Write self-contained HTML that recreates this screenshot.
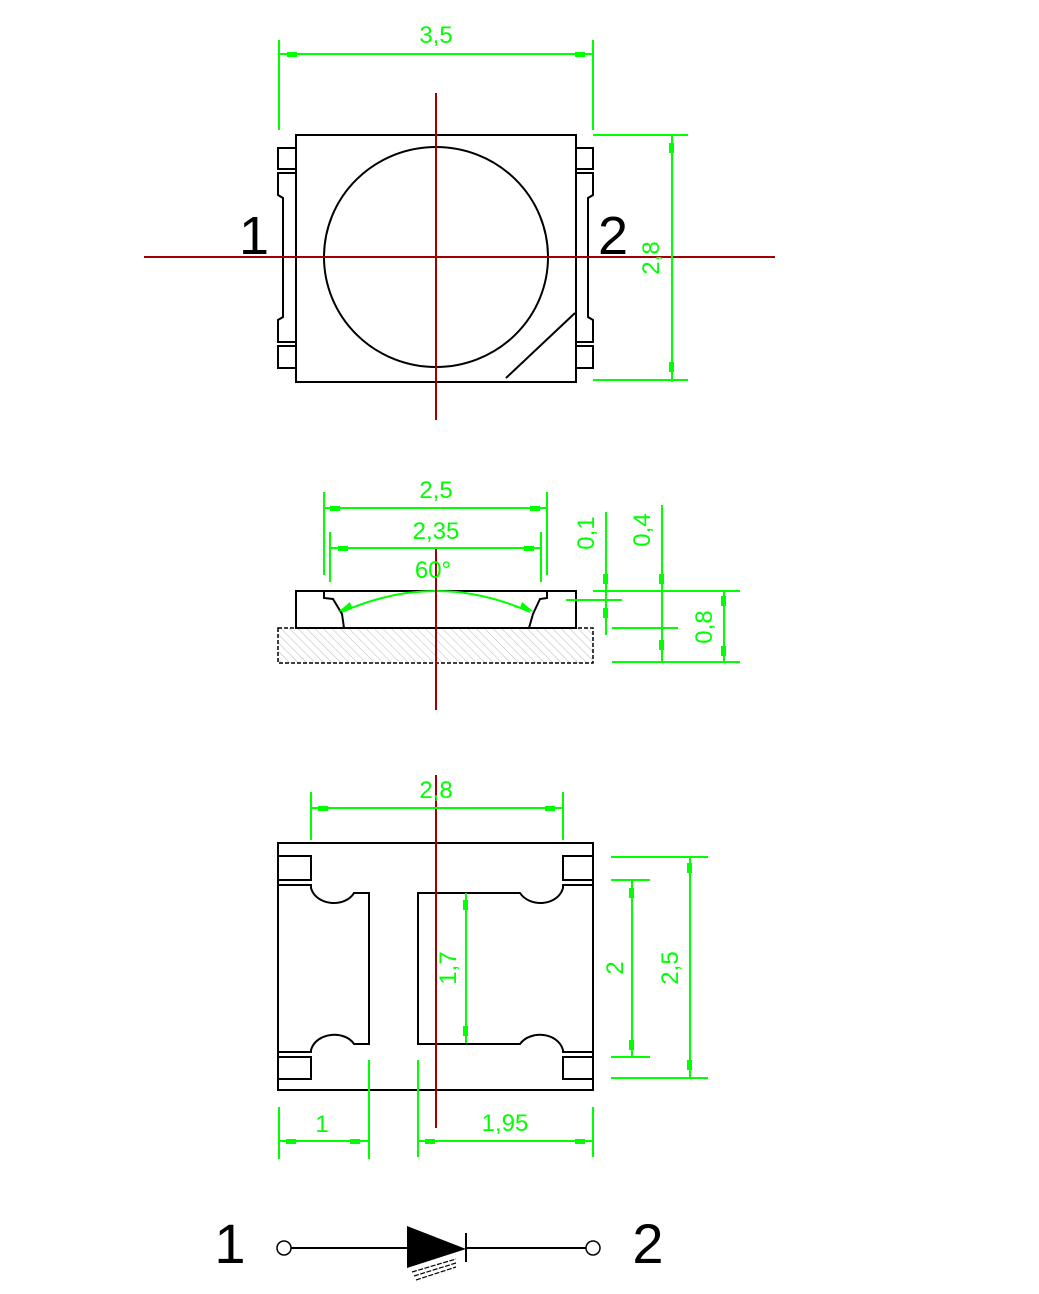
<!DOCTYPE html>
<html><head><meta charset="utf-8"><style>
html,body{margin:0;padding:0;background:#fff}
svg{display:block}
.g{stroke:#00ff00;stroke-width:2;fill:none}
.ga{fill:#00ff00;stroke:none}
.k{stroke:#000;stroke-width:2;fill:none}
.r{stroke:#a00000;stroke-width:2;fill:none}
.t{font-family:"Liberation Sans",sans-serif;fill:#00ff00;font-size:24px;text-anchor:middle}
.b{font-family:"Liberation Sans",sans-serif;fill:#000;text-anchor:middle}
</style></head><body>
<svg width="1039" height="1294" viewBox="0 0 1039 1294" xmlns="http://www.w3.org/2000/svg">
<defs>
<pattern id="h" width="6" height="6" patternUnits="userSpaceOnUse" patternTransform="rotate(-45)">
<line x1="0" y1="0" x2="0" y2="6" stroke="#bbb" stroke-width="1"/>
</pattern>
</defs>

<!-- TOP VIEW -->
<rect class="k" x="296" y="135" width="280" height="247"/>
<ellipse class="k" cx="436" cy="257" rx="112" ry="110"/>
<!-- left pads -->
<rect class="k" x="278" y="148" width="18" height="21"/>
<rect class="k" x="278" y="346" width="18" height="22"/>
<path class="k" d="M296 173 H278 V195 L283 198 V317 L278 320 V342 H296"/>
<!-- right pads -->
<rect class="k" x="576" y="148" width="17" height="21"/>
<rect class="k" x="576" y="346" width="17" height="22"/>
<path class="k" d="M576 173 H593 V195 L588 198 V317 L593 320 V342 H576"/>
<line class="k" x1="506" y1="378" x2="575" y2="313" stroke-width="1.5"/>
<line class="r" x1="436" y1="93" x2="436" y2="420"/>
<line class="r" x1="144" y1="257" x2="775" y2="257"/>
<text class="b" x="254" y="254" font-size="54">1</text>
<text class="b" x="613" y="254" font-size="54">2</text>
<!-- dim 3,5 -->
<line class="g" x1="279" y1="40" x2="279" y2="130"/>
<line class="g" x1="593" y1="40" x2="593" y2="130"/>
<line class="g" x1="279" y1="54" x2="593" y2="54"/>
<rect class="ga" x="287" y="52" width="10" height="5"/>
<rect class="ga" x="575" y="52" width="10" height="5"/>
<text class="t" x="436" y="43">3,5</text>
<!-- dim 2,8 -->
<line class="g" x1="593" y1="135" x2="688" y2="135"/>
<line class="g" x1="593" y1="380" x2="688" y2="380"/>
<line class="g" x1="672" y1="135" x2="672" y2="382"/>
<rect class="ga" x="669" y="143" width="5" height="10"/>
<rect class="ga" x="669" y="362" width="5" height="10"/>
<text class="t" transform="translate(659,258) rotate(-90)">2,8</text>

<!-- SIDE VIEW -->
<rect x="278" y="628" width="315" height="35" fill="url(#h)" stroke="#000" stroke-width="1.5" stroke-dasharray="4,2"/>
<rect class="k" x="296" y="591" width="280" height="37"/>
<path class="k" d="M324 591 V598 L333 599 L342 614 L344 628" stroke-width="1.5"/>
<path class="k" d="M547 591 V598 L540 599 L533 614 L529 628" stroke-width="1.5"/>
<path class="g" d="M342 612 Q436 570 530 612"/>
<path class="ga" d="M338 612 L350 602 L352 608 Z"/>
<path class="ga" d="M534 612 L522 602 L520 608 Z"/>
<line class="r" x1="436" y1="548" x2="436" y2="710"/>
<!-- 2,5 -->
<line class="g" x1="324" y1="492" x2="324" y2="575"/>
<line class="g" x1="547" y1="492" x2="547" y2="575"/>
<line class="g" x1="324" y1="508" x2="547" y2="508"/>
<rect class="ga" x="330" y="506" width="10" height="5"/>
<rect class="ga" x="530" y="506" width="10" height="5"/>
<text class="t" x="436" y="498">2,5</text>
<!-- 2,35 -->
<line class="g" x1="330" y1="532" x2="330" y2="582"/>
<line class="g" x1="541" y1="532" x2="541" y2="582"/>
<line class="g" x1="330" y1="548" x2="541" y2="548"/>
<rect class="ga" x="338" y="546" width="10" height="5"/>
<rect class="ga" x="524" y="546" width="10" height="5"/>
<text class="t" x="436" y="539">2,35</text>
<text class="t" x="433" y="578">60°</text>
<!-- right side dims -->
<line class="g" x1="593" y1="591" x2="740" y2="591"/>
<line class="g" x1="566" y1="600" x2="622" y2="600"/>
<line class="g" x1="612" y1="628" x2="678" y2="628"/>
<line class="g" x1="612" y1="662" x2="740" y2="662"/>
<line class="g" x1="606" y1="512" x2="606" y2="635"/>
<line class="g" x1="662" y1="505" x2="662" y2="662"/>
<line class="g" x1="724" y1="591" x2="724" y2="662"/>
<rect class="ga" x="603" y="574" width="5" height="10"/>
<rect class="ga" x="603" y="608" width="5" height="10"/>
<rect class="ga" x="659" y="574" width="5" height="10"/>
<rect class="ga" x="659" y="640" width="5" height="10"/>
<rect class="ga" x="721" y="596" width="5" height="10"/>
<rect class="ga" x="721" y="646" width="5" height="10"/>
<text class="t" transform="translate(594,533) rotate(-90)">0,1</text>
<text class="t" transform="translate(650,530) rotate(-90)">0,4</text>
<text class="t" transform="translate(712,627) rotate(-90)">0,8</text>

<!-- BOTTOM VIEW -->
<rect class="k" x="278" y="843" width="315" height="247"/>
<rect class="k" x="278" y="856" width="33" height="24"/>
<rect class="k" x="278" y="1057" width="33" height="22"/>
<rect class="k" x="563" y="856" width="30" height="24"/>
<rect class="k" x="563" y="1057" width="30" height="22"/>
<path class="k" d="M278 885 H311 V888 C316 906 345 908 354 893 H369 V1044 H354 C345 1030 316 1032 311 1050 V1052 H278"/>
<path class="k" d="M593 885 H563 V888 C558 906 530 908 520 893 H418 V1044 H520 C530 1030 558 1032 563 1050 V1052 H593"/>
<line class="r" x1="436" y1="775" x2="436" y2="1128"/>
<!-- 2,8 -->
<line class="g" x1="311" y1="792" x2="311" y2="840"/>
<line class="g" x1="563" y1="792" x2="563" y2="840"/>
<line class="g" x1="311" y1="808" x2="563" y2="808"/>
<rect class="ga" x="318" y="806" width="10" height="5"/>
<rect class="ga" x="545" y="806" width="10" height="5"/>
<text class="t" x="436" y="798">2,8</text>
<!-- 1,7 -->
<line class="g" x1="466" y1="893" x2="466" y2="1043"/>
<rect class="ga" x="463" y="900" width="5" height="10"/>
<rect class="ga" x="463" y="1026" width="5" height="10"/>
<text class="t" transform="translate(456,968) rotate(-90)" font-size="22">1,7</text>
<!-- right dims -->
<line class="g" x1="611" y1="857" x2="708" y2="857"/>
<line class="g" x1="611" y1="1078" x2="708" y2="1078"/>
<line class="g" x1="611" y1="880" x2="650" y2="880"/>
<line class="g" x1="611" y1="1057" x2="650" y2="1057"/>
<line class="g" x1="632" y1="880" x2="632" y2="1057"/>
<line class="g" x1="690" y1="857" x2="690" y2="1078"/>
<rect class="ga" x="629" y="888" width="5" height="10"/>
<rect class="ga" x="629" y="1040" width="5" height="10"/>
<rect class="ga" x="687" y="863" width="5" height="10"/>
<rect class="ga" x="687" y="1060" width="5" height="10"/>
<text class="t" transform="translate(623,968) rotate(-90)">2</text>
<text class="t" transform="translate(678,968) rotate(-90)">2,5</text>
<!-- bottom dims -->
<line class="g" x1="279" y1="1107" x2="279" y2="1159"/>
<line class="g" x1="369" y1="1060" x2="369" y2="1159"/>
<line class="g" x1="418" y1="1060" x2="418" y2="1157"/>
<line class="g" x1="593" y1="1107" x2="593" y2="1157"/>
<line class="g" x1="279" y1="1141" x2="369" y2="1141"/>
<line class="g" x1="418" y1="1141" x2="593" y2="1141"/>
<rect class="ga" x="286" y="1139" width="10" height="5"/>
<rect class="ga" x="350" y="1139" width="10" height="5"/>
<rect class="ga" x="425" y="1139" width="10" height="5"/>
<rect class="ga" x="575" y="1139" width="10" height="5"/>
<text class="t" x="322" y="1132">1</text>
<text class="t" x="505" y="1131">1,95</text>

<!-- SYMBOL -->
<text class="b" x="230" y="1263" font-size="56">1</text>
<text class="b" x="648" y="1263" font-size="56">2</text>
<circle cx="284" cy="1248" r="7" fill="#fff" stroke="#000" stroke-width="1.5"/>
<circle cx="593" cy="1248" r="7" fill="#fff" stroke="#000" stroke-width="1.5"/>
<line class="k" x1="291" y1="1248" x2="407" y2="1248" stroke-width="1.5"/>
<line class="k" x1="466" y1="1248" x2="586" y2="1248" stroke-width="1.5"/>
<path d="M407 1226 L466 1249 L407 1268 Z" fill="#000"/>
<line class="k" x1="466" y1="1233" x2="466" y2="1262"/>
<path d="M412 1272 L456 1259 M414 1276 L456 1263 M416 1280 L456 1267" stroke="#000" stroke-width="1.2" stroke-dasharray="5,1.5"/>
</svg>
</body></html>
